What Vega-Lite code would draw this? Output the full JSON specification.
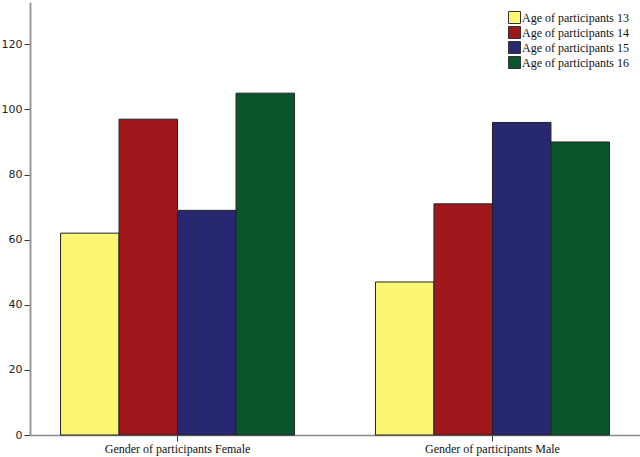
{
  "$schema": "https://vega.github.io/schema/vega-lite/v6.json",
  "autosize": {"type": "none"},
  "width": 610,
  "height": 433,
  "padding": {"left": 30, "top": 2, "right": 0, "bottom": 22},
  "background": "white",
  "data": {"values": [
    {"gender": "Gender of participants Female", "age": "Age of participants 13", "count": 62},
    {"gender": "Gender of participants Female", "age": "Age of participants 14", "count": 97},
    {"gender": "Gender of participants Female", "age": "Age of participants 15", "count": 69},
    {"gender": "Gender of participants Female", "age": "Age of participants 16", "count": 105},
    {"gender": "Gender of participants Male", "age": "Age of participants 13", "count": 47},
    {"gender": "Gender of participants Male", "age": "Age of participants 14", "count": 71},
    {"gender": "Gender of participants Male", "age": "Age of participants 15", "count": 96},
    {"gender": "Gender of participants Male", "age": "Age of participants 16", "count": 90}
  ]},
  "mark": {"type": "bar", "stroke": "#222222", "strokeWidth": 1},
  "encoding": {
    "x": {
      "field": "gender", "type": "nominal",
      "scale": {"paddingInner": 0.257, "paddingOuter": 0.097},
      "axis": {
        "title": null, "labelAngle": 0, "labelFont": "Liberation Serif", "labelFontSize": 12,
        "labelColor": "#111111", "domainColor": "#888888", "domainWidth": 1.5,
        "tickColor": "#333333", "tickSize": 6, "labelPadding": 2
      }
    },
    "xOffset": {"field": "age", "type": "nominal", "scale": {"paddingInner": 0, "paddingOuter": 0}},
    "y": {
      "field": "count", "type": "quantitative",
      "scale": {"domain": [0, 133], "nice": false},
      "axis": {
        "title": null, "values": [0, 20, 40, 60, 80, 100, 120], "grid": false,
        "labelFont": "DejaVu Sans", "labelFontSize": 11, "labelColor": "#222222",
        "domainColor": "#999999", "domainWidth": 2, "tickColor": "#333333", "tickSize": 6, "labelPadding": 2
      }
    },
    "color": {
      "field": "age", "type": "nominal",
      "scale": {"range": ["#FBF772", "#A0171B", "#282872", "#0B552D"]},
      "legend": {
        "title": null, "orient": "none", "legendX": 478, "legendY": 9,
        "symbolType": "square", "symbolSize": 144, "symbolStrokeColor": "#333333", "symbolStrokeWidth": 1,
        "labelFont": "Liberation Serif", "labelFontSize": 12, "labelColor": "#111111",
        "rowPadding": -2, "labelOffset": 1, "padding": 0
      }
    }
  },
  "config": {"view": {"stroke": null}}
}
